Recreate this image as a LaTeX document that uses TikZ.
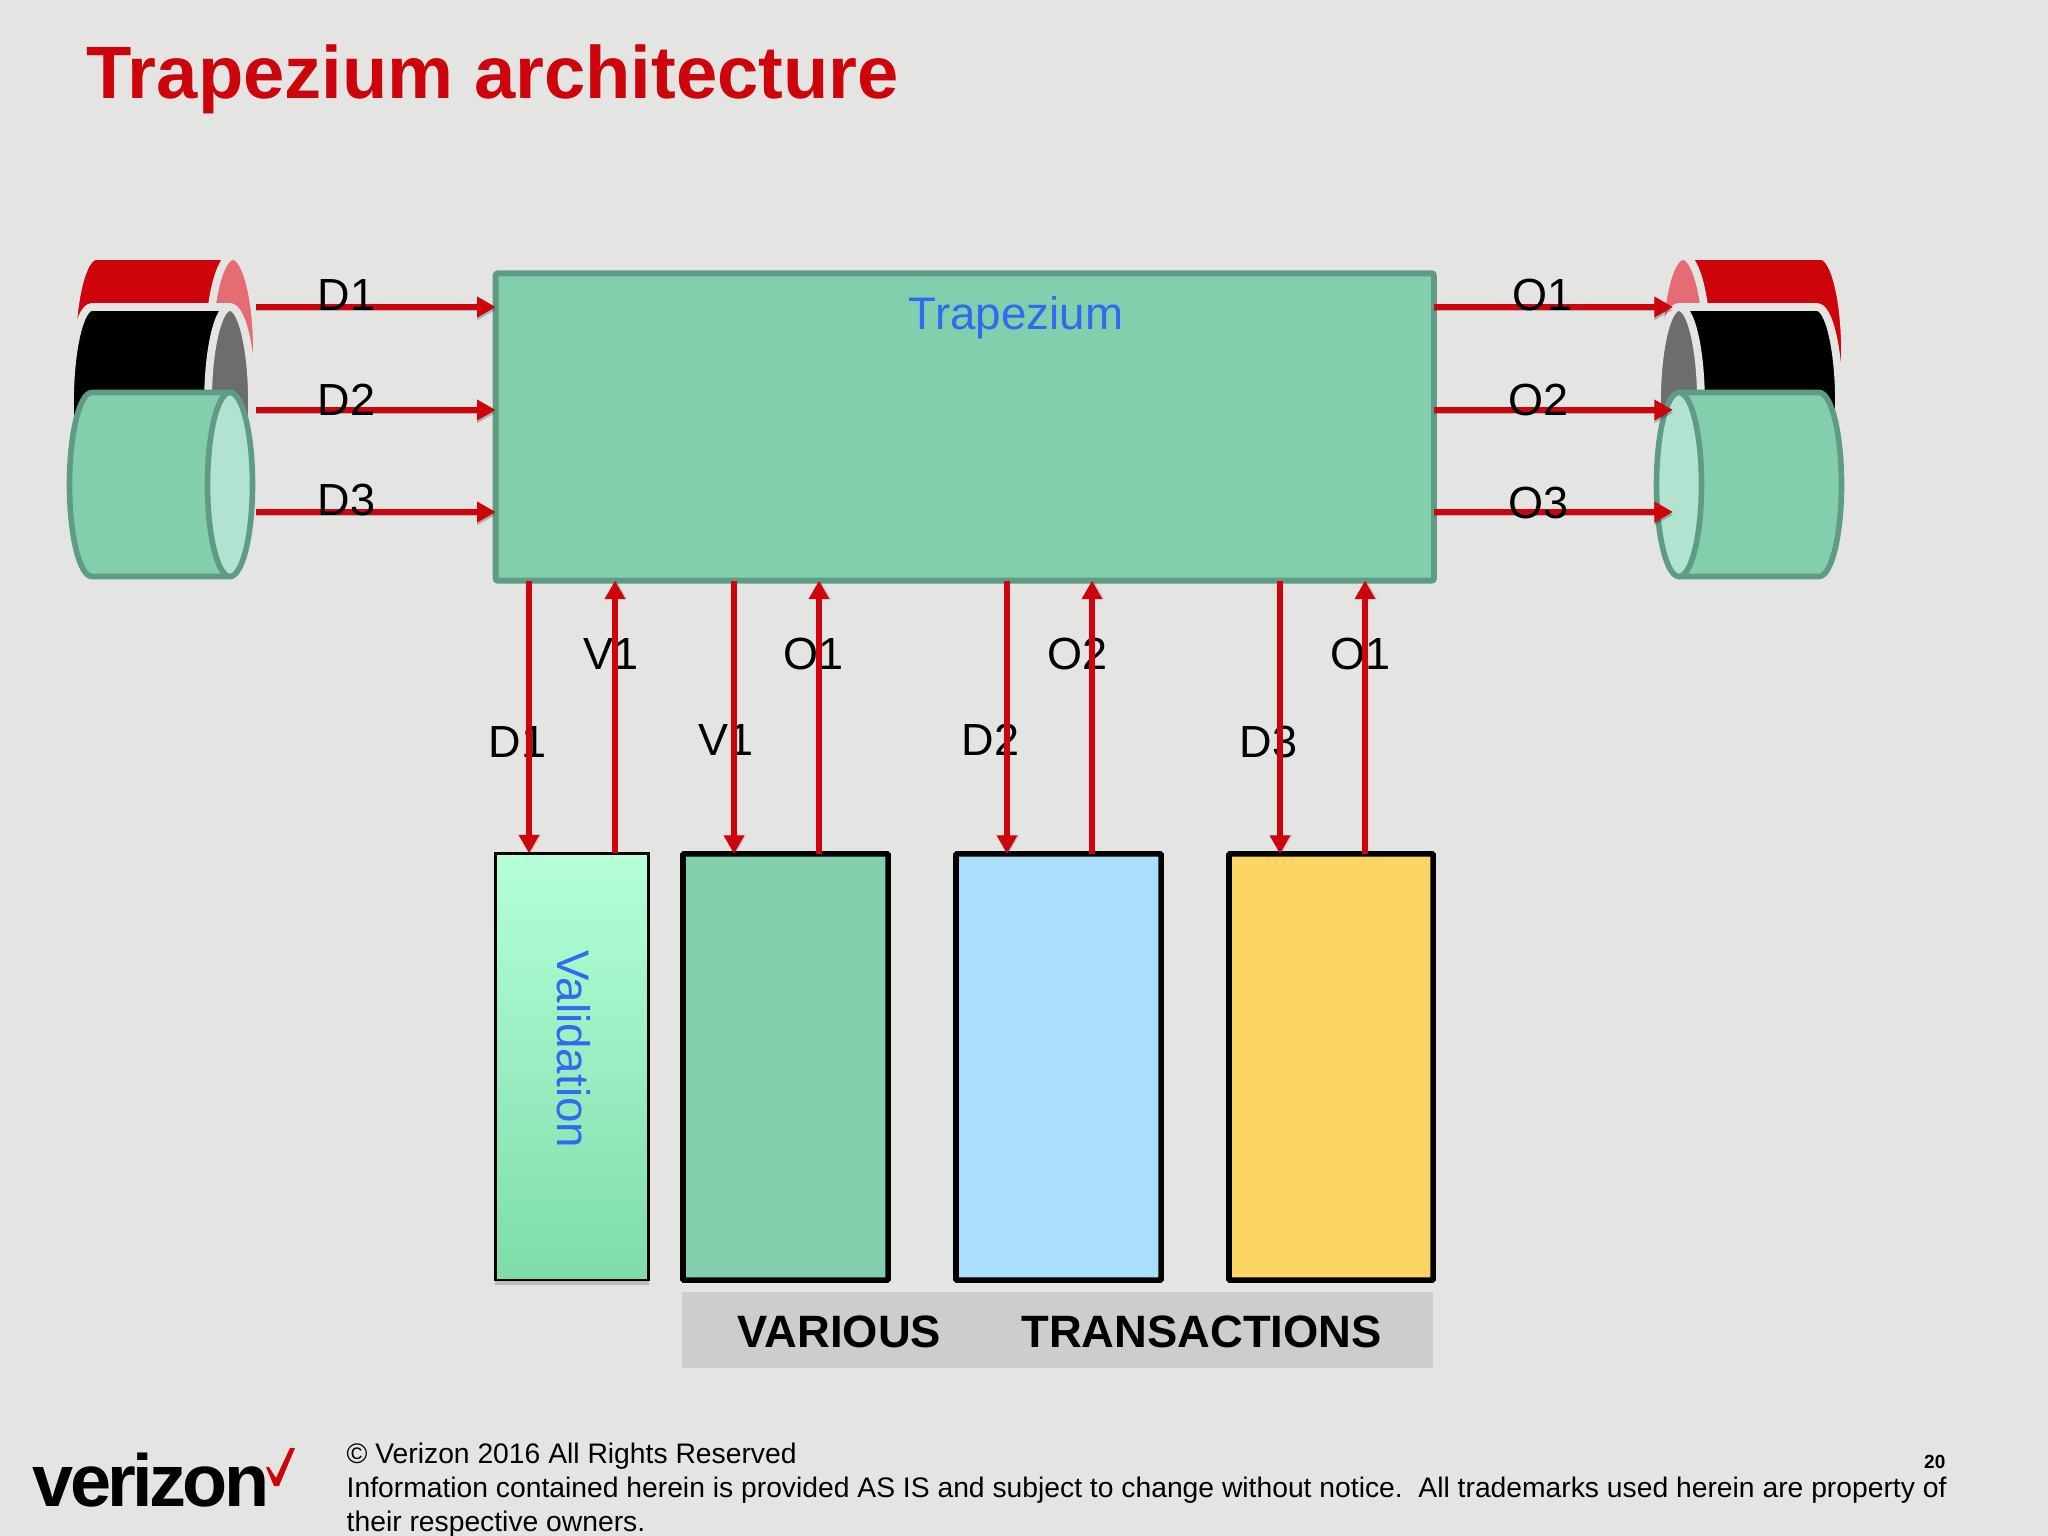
\documentclass[tikz,border=0pt]{standalone}
\usepackage{fontspec}
\setmainfont{Liberation Sans}
\newfontfamily\logofont[LetterSpace=-5]{Liberation Sans}
\usetikzlibrary{arrows.meta,shadows}
\definecolor{bgc}{HTML}{E4E4E3}
\definecolor{vzred}{HTML}{CD040B}
\definecolor{redface}{HTML}{E56B75}
\definecolor{greyface}{HTML}{6E6D6D}
\definecolor{grn}{HTML}{83CFAD}
\definecolor{grnface}{HTML}{B2E2D0}
\definecolor{grnline}{HTML}{5F9C85}
\definecolor{skyb}{HTML}{AADFFC}
\definecolor{yel}{HTML}{FDD565}
\definecolor{band}{HTML}{CDCDCC}
\definecolor{bluetxt}{HTML}{2F6BF0}
\definecolor{vhigh}{HTML}{B5FFD8}
\definecolor{vlow}{HTML}{7EDCA9}
\newcommand{\cylshape}[9]{%
  \draw[draw=#8,line width=#9,fill=#6,line join=round]
    (#1,{#3-#5}) -- (#2,{#3-#5}) -- (#2,{#3+#5}) -- (#1,{#3+#5})
    arc[start angle=90,end angle=270,x radius=#4,y radius=#5] -- cycle;
  \draw[draw=#8,line width=#9,fill=#7] (#2,#3) ellipse (#4 and #5);
}
\tikzset{
  px/.style={x=0.01cm,y=-0.01cm},
  arrowline/.style={draw=vzred,line width=1.85pt,
    -{Triangle[length=5.3pt,width=5.6pt]},
    preaction={draw=black,opacity=.22,transform canvas={yshift=-0.8pt}}},
  plainrise/.style={draw=vzred,line width=1.85pt,
    -{Triangle[length=5.3pt,width=5.6pt]},
    preaction={draw=black,opacity=.12,transform canvas={xshift=0.5pt}}},
  lab/.style={anchor=base west,inner sep=0pt,font=\fontsize{12.8pt}{15pt}\selectfont,text=black},
  txbox/.style={rectangle,draw=black,line width=1.6pt,inner sep=0pt,outer sep=0pt,
    minimum height=4.26cm,rounded corners=0.3pt},
}
\begin{document}
\begin{tikzpicture}[px]
\fill[bgc] (0,0) rectangle (2048,1536);
\useasboundingbox (0,0) rectangle (2048,1536);

% title
\node[anchor=base west,inner sep=0pt,text=vzred,font=\fontsize{21.1pt}{25pt}\selectfont\bfseries] (title) at (86,98) {Trapezium architecture};

% left cylinders
\cylshape{96}{233}{352}{24}{96}{vzred}{redface}{bgc}{2.2pt}
\cylshape{92}{230}{403}{22}{96}{black}{greyface}{bgc}{2.2pt}
\cylshape{92}{230}{484.5}{22.5}{92}{grn}{grnface}{grnline}{1.6pt}
% right cylinders
\begin{scope}[shift={(1909,0)},xscale=-1]
\cylshape{88}{226}{352}{24}{96}{vzred}{redface}{bgc}{2.2pt}
\cylshape{92}{230}{403}{22}{96}{black}{greyface}{bgc}{2.2pt}
\cylshape{90}{230}{484.5}{22.5}{92}{grn}{grnface}{grnline}{1.6pt}
\end{scope}

% main box
\node[rectangle,draw=grnline,fill=grn,line width=1.7pt,inner sep=0pt,outer sep=0pt,
  minimum width=9.375cm,minimum height=3.07cm,rounded corners=0.6pt] (main) at (964.75,427) {};
\node[anchor=base,inner sep=0pt,text=bluetxt,font=\fontsize{13pt}{15pt}\selectfont] (trap) at (1016,329) {Trapezium};

% lower boxes
\node[rectangle,draw=black,line width=0.75pt,inner sep=0pt,outer sep=0pt,
  minimum width=1.53cm,minimum height=4.265cm,top color=vhigh,bottom color=vlow,
  drop shadow={shadow xshift=0pt,shadow yshift=-1.5pt,opacity=.4}] (val) at (572,1066.75) {};
\node[anchor=base west,rotate=-90,inner sep=0pt,text=bluetxt,font=\fontsize{13pt}{15pt}\selectfont] (valtxt) at (557,950) {Validation};
\node[txbox,fill=grn,minimum width=2.05cm] (b1) at (785.5,1067) {};
\node[txbox,fill=skyb,minimum width=2.05cm] (b2) at (1058.5,1067) {};
\node[txbox,fill=yel,minimum width=2.04cm] (b3) at (1331,1067) {};

% band
\node[rectangle,fill=band,inner sep=0pt,minimum width=7.51cm,minimum height=0.76cm] (bandbox) at (1057.5,1330) {};
\node[anchor=base west,inner sep=0pt,font=\fontsize{12.9pt}{15pt}\selectfont\bfseries] (bandtxt) at (737,1347) {VARIOUS\hspace*{22.9pt}TRANSACTIONS};

% lower labels (under the arrows)
\node[lab] (l1) at (488,757) {D1};
\node[lab] (l2) at (583,669) {V1};
\node[lab] (l3) at (698,755) {V1};
\node[lab] (l4) at (783,669) {O1};
\node[lab] (l5) at (961,755) {D2};
\node[lab] (l6) at (1047,669) {O2};
\node[lab] (l7) at (1239,757) {D3};
\node[lab] (l8) at (1330,669) {O1};

% vertical connector positions
\coordinate (c1) at (529,700);
\coordinate (c2) at (615,700);
\coordinate (c3) at (734,700);
\coordinate (c4) at (819,700);
\coordinate (c5) at (1007,700);
\coordinate (c6) at (1092,700);
\coordinate (c7) at (1280,700);
\coordinate (c8) at (1365,700);
\draw[plainrise] (main.south -| c1) -- (val.north -| c1);
\draw[plainrise] (val.north -| c2) -- (main.south -| c2);
\draw[plainrise] (main.south -| c3) -- (b1.north -| c3);
\draw[plainrise] (b1.north -| c4) -- (main.south -| c4);
\draw[plainrise] (main.south -| c5) -- (b2.north -| c5);
\draw[plainrise] (b2.north -| c6) -- (main.south -| c6);
\draw[plainrise] (main.south -| c7) -- (b3.north -| c7);
\draw[plainrise] (b3.north -| c8) -- (main.south -| c8);

% horizontal connectors
\coordinate (in1) at (256,307);
\coordinate (in2) at (256,410);
\coordinate (in3) at (256,512);
\coordinate (out1) at (1673,307);
\coordinate (out2) at (1673,410);
\coordinate (out3) at (1673,512);
\draw[arrowline] (in1) -- (main.west |- in1);
\draw[arrowline] (in2) -- (main.west |- in2);
\draw[arrowline] (in3) -- (main.west |- in3);
\draw[arrowline] (main.east |- out1) -- (out1);
\draw[arrowline] (main.east |- out2) -- (out2);
\draw[arrowline] (main.east |- out3) -- (out3);

% upper labels
\node[lab] (u1) at (317,310) {D1};
\node[lab] (u2) at (317,415) {D2};
\node[lab] (u3) at (317,515) {D3};
\node[lab] (u4) at (1512,310) {O1};
\node[lab] (u5) at (1508,415) {O2};
\node[lab] (u6) at (1508,518) {O3};

% footer
\node[anchor=base west,inner sep=0pt,font={\logofont\fontsize{21pt}{25pt}\selectfont\bfseries}] (logo) at (32,1506) {verizon};
\fill[vzred] (266,1467) -- (269,1467) -- (276,1478) -- (290,1448) -- (295,1448) -- (279,1486) -- (274,1486) -- cycle;
\node[anchor=base west,inner sep=0pt,font=\fontsize{8.04pt}{10pt}\selectfont] (f1) at (346,1463) {© Verizon 2016 All Rights Reserved};
\node[anchor=base west,inner sep=0pt,font=\fontsize{8.04pt}{10pt}\selectfont] (f2) at (346,1497) {Information contained herein is provided AS IS and subject to change without notice.\ \ All trademarks used herein are property of};
\node[anchor=base west,inner sep=0pt,font=\fontsize{8.04pt}{10pt}\selectfont] (f3) at (346,1531) {their respective owners.};
\node[anchor=base east,inner sep=0pt,font=\fontsize{5.4pt}{7pt}\selectfont\bfseries] (pg) at (1946,1468) {20};
\end{tikzpicture}
\end{document}
